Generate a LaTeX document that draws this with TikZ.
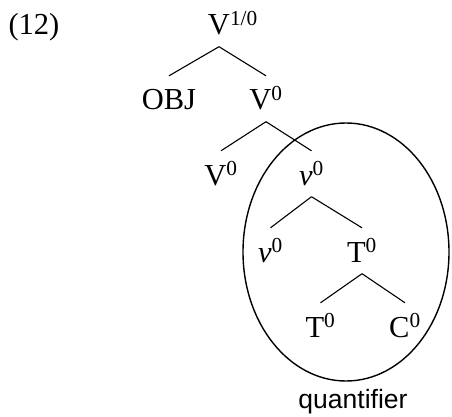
\documentclass[tikz,border=0pt]{standalone}
\usepackage{fontspec}
\setmainfont{Liberation Serif}
\setsansfont{Liberation Sans}
\usepackage{tikz}
\usetikzlibrary{positioning,shapes.geometric}
\tikzset{
    categoria/.style={
        inner sep=0pt,
        text height=34pt,
        text depth=11.5pt,
        font=\fontsize{30.5}{36}\selectfont
    },
    ramo/.style={line width=1.1pt},
    dominio/.style={
        ellipse,
        draw,
        line width=1.4pt,
        inner sep=0pt,
        minimum width=206pt,
        minimum height=258pt
    },
    rotulo/.style={inner sep=0pt, font=\fontsize{26.5}{32}\selectfont\sffamily}
}

\begin{document}
\begin{tikzpicture}[x=1pt, y=1pt, on grid]
    \useasboundingbox (0,0) rectangle (452,-417);
    \node[categoria] (raiz) at (219,-23.75) {V\rlap{\textsuperscript{1/0}}};
    \node[categoria, left=185pt of raiz] (exemplo) {(12)};
    \node[categoria, below left=75pt and 50pt of raiz] (obj) {OBJ};
    \node[categoria, below right=75pt and 47pt of raiz] (vbar) {V\textsuperscript{0}};
    \node[categoria, below left=75pt and 45pt of vbar] (verbo) {V\textsuperscript{0}};
    \node[categoria, below right=75pt and 45.5pt of vbar] (vpeq) {\textit{ν}\textsuperscript{0}};
    \node[categoria, below left=77pt and 41pt of vpeq] (vbase) {\textit{ν}\textsuperscript{0}};
    \node[categoria, below right=77pt and 50.5pt of vpeq] (tempo) {T\textsuperscript{0}};
    \node[categoria, below left=75pt and 41.5pt of tempo] (tbase) {T\textsuperscript{0}};
    \node[categoria, below right=75pt and 43pt of tempo] (comp) {C\textsuperscript{0}};
    % arvore
    \draw[ramo] (raiz.south) -- (obj.north);
    \draw[ramo] (raiz.south) -- (vbar.north);
    \draw[ramo] (vbar.south) -- (verbo.north);
    \draw[ramo] (vbar.south) -- (vpeq.north);
    \draw[ramo] (vpeq.south) -- (vbase.north);
    \draw[ramo] (vpeq.south) -- (tempo.north);
    \draw[ramo] (tempo.south) -- (tbase.north);
    \draw[ramo] (tempo.south) -- (comp.north);
    % quantificador
    \node[dominio] (quant) at (346,-252) {};
    \node[rotulo, anchor=north] (rotquant) at ([xshift=7pt, yshift=-7pt]quant.south) {quantifier};
\end{tikzpicture}
\end{document}
